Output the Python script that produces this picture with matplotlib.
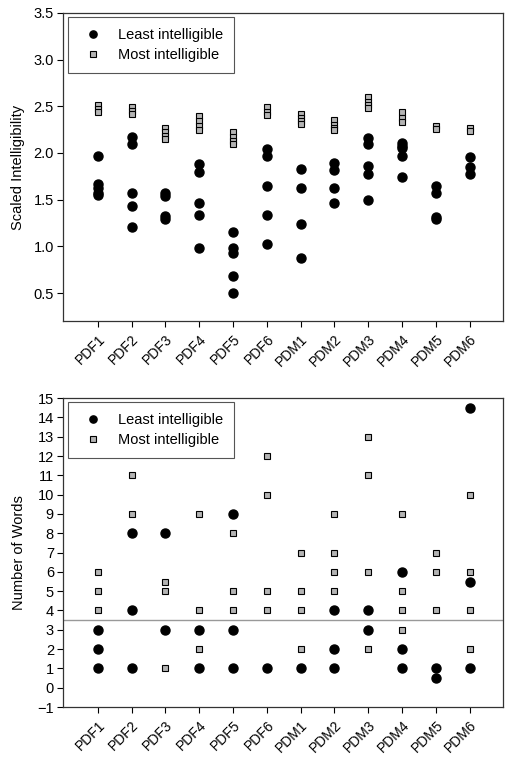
import numpy as np
import matplotlib.pyplot as plt

plt.rcParams['font.family'] = ['Liberation Sans', 'DejaVu Sans']

speakers = ["PDF1", "PDF2", "PDF3", "PDF4", "PDF5", "PDF6",
            "PDM1", "PDM2", "PDM3", "PDM4", "PDM5", "PDM6"]

# scaled intelligibility, per speaker
least_scaled = [
    [1.97, 1.67, 1.62, 1.57, 1.55],
    [2.17, 2.10, 1.57, 1.43, 1.21],
    [1.57, 1.54, 1.32, 1.29],
    [1.88, 1.80, 1.46, 1.34, 0.98],
    [1.15, 0.98, 0.93, 0.68, 0.50],
    [2.04, 1.97, 1.65, 1.34, 1.02],
    [1.83, 1.62, 1.24, 0.87],
    [1.89, 1.82, 1.63, 1.46],
    [2.16, 2.10, 1.86, 1.78, 1.50],
    [2.11, 2.08, 2.05, 1.97, 1.74],
    [1.65, 1.57, 1.31, 1.29],
    [1.96, 1.85, 1.77],
]
most_scaled = [
    [2.51, 2.47, 2.44],
    [2.49, 2.45, 2.42],
    [2.27, 2.22, 2.18, 2.15],
    [2.40, 2.34, 2.29, 2.25],
    [2.22, 2.17, 2.13, 2.10],
    [2.49, 2.44, 2.41],
    [2.42, 2.37, 2.34, 2.31],
    [2.35, 2.30, 2.27, 2.25],
    [2.60, 2.55, 2.51, 2.48],
    [2.44, 2.37, 2.33],
    [2.29, 2.26],
    [2.27, 2.24],
]

# number of words, per speaker
least_words = [
    [3, 2, 1], [8, 4, 1], [8, 3], [3, 1], [9, 3, 1], [1],
    [1], [4, 2, 1], [4, 3], [6, 2, 1], [1, 0.5], [14.5, 5.5, 1],
]
most_words = [
    [6, 5, 4], [11, 9], [5.5, 5, 1], [9, 4, 2], [8, 5, 4], [12, 10, 5, 4],
    [7, 5, 4, 2], [9, 7, 6, 5], [13, 11, 6, 2], [9, 5, 4, 3], [7, 6, 4], [10, 6, 4, 2],
]
threshold = 3.5


def flatten(groups):
    xs, ys = [], []
    for i, g in enumerate(groups):
        xs += [i] * len(g)
        ys += g
    return xs, ys


def draw(ax, least, most):
    x1, y1 = flatten(least)
    x2, y2 = flatten(most)
    ax.plot(x1, y1, 'o', color='black', markersize=6.5, linestyle='none',
            label="Least intelligible")
    ax.plot(x2, y2, 's', color='#b4b4b4', markeredgecolor='black',
            markeredgewidth=0.8, markersize=5, linestyle='none',
            label="Most intelligible")
    ax.set_xlim(-1.03, 11.98)
    ax.set_xticks(range(len(speakers)))
    ax.set_xticklabels(speakers, rotation=45, ha='right',
                       rotation_mode='anchor', fontsize=10)
    ax.tick_params(axis='both', direction='out', length=4, width=0.8,
                   labelsize=10.5, top=False, right=False, pad=2.5)
    ax.tick_params(axis='x', labelsize=10, pad=4)
    for s in ax.spines.values():
        s.set_linewidth(0.9)
        s.set_color('#333333')
    leg = ax.legend(loc='upper left', fontsize=10.5, fancybox=False,
                    framealpha=1, edgecolor='#555555', borderpad=0.75,
                    handletextpad=0.7, labelspacing=0.4, borderaxespad=0,
                    markerscale=0.8, bbox_to_anchor=(0.011, 0.987))
    leg.get_frame().set_linewidth(0.8)


fig = plt.figure(figsize=(5.12, 7.59), dpi=100)
ax1 = fig.add_axes([0.123, 0.577, 0.859, 0.406])
ax2 = fig.add_axes([0.123, 0.0685, 0.859, 0.407])

draw(ax1, least_scaled, most_scaled)
ax1.set_ylim(0.2, 3.5)
ax1.set_yticks(np.arange(0.5, 3.51, 0.5))
ax1.set_yticklabels([f"{v:.1f}" for v in np.arange(0.5, 3.51, 0.5)])
ax1.set_ylabel("Scaled Intelligibility", fontsize=10.5, labelpad=6)

draw(ax2, least_words, most_words)
ax2.axhline(threshold, color='#999999', linewidth=1.0, zorder=0)
ax2.set_ylim(-1, 15)
ax2.set_yticks(range(-1, 16))
ax2.set_ylabel("Number of Words", fontsize=10.5, labelpad=8)

fig.savefig("out.png", dpi=100)
